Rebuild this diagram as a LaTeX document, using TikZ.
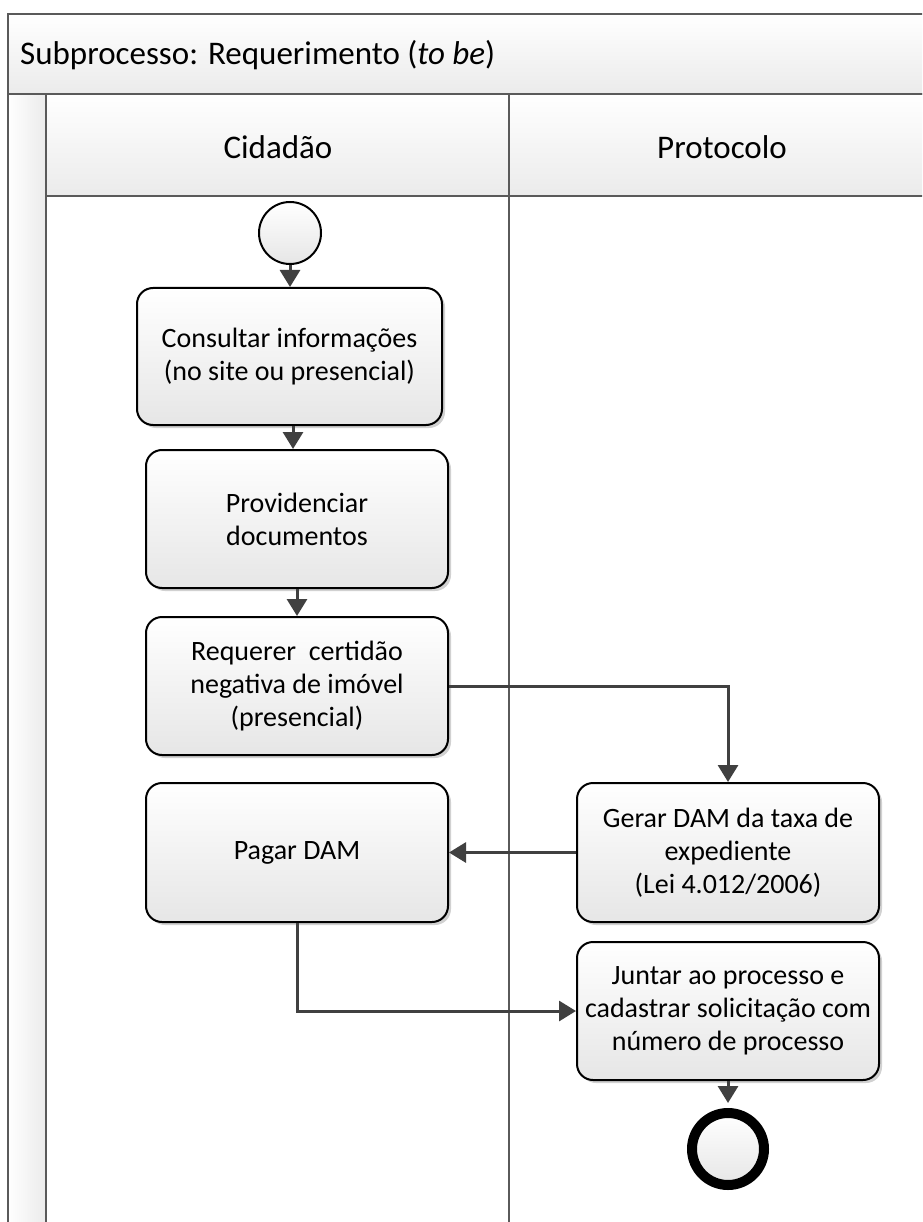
\documentclass[tikz,border=0pt]{standalone}
\usepackage{fontspec}
\setmainfont{Carlito}
\usetikzlibrary{arrows.meta,shadows}

\definecolor{lanegray}{HTML}{5A5A5A}
\definecolor{flowgray}{HTML}{404040}
\definecolor{fillbot}{HTML}{E6E6E6}
\definecolor{bandbot}{HTML}{EBEBEB}

\begin{document}
\begin{tikzpicture}[x=1pt,y=-1pt,
  lane/.style={draw=lanegray,line width=2.5pt},
  task/.style={draw=black,line width=2pt,rounded corners=16pt,
    top color=white,bottom color=fillbot,align=center,inner sep=0pt,
    font=\fontsize{28}{33}\selectfont,
    drop shadow={shadow xshift=3pt,shadow yshift=-3pt,opacity=0.18,fill=black}},
  event/.style={circle,draw=black,top color=white,bottom color=fillbot,inner sep=0pt},
  flow/.style={draw=flowgray,line width=3pt,-{Triangle[length=17pt,width=20pt]}},
  hdr/.style={font=\fontsize{33}{39}\selectfont,inner sep=0pt},
]
\useasboundingbox (0,0) rectangle (922,1222);
\clip (0,0) rectangle (922,1222);
\fill[white] (0,0) rectangle (922,1222);

% pool title band
\path[lane,top color=white,bottom color=bandbot] (8,14) rectangle (945,94);
\node[hdr,anchor=west] (title) at (20,55) {Subprocesso: Requerimento (\textit{to be})};

% lane headers
\path[lane,top color=white,bottom color=bandbot] (46,94) rectangle (945,196);
\path[lane,left color=white,right color=bandbot] (8,94) rectangle (46,1240);
\draw[lane] (46,94) -- (46,1240);
\draw[lane] (509,94) -- (509,1240);
\node[hdr] (laneA) at (278,147) {Cidadão};
\node[hdr] (laneB) at (722,147) {Protocolo};

% flow objects
\node[event,line width=2pt,minimum size=62pt] (start) at (290,233) {};
\node[task,minimum width=305pt,minimum height=137pt] (c1) at (289.5,356.5)
  {Consultar informações\\(no site ou presencial)};
\node[task,minimum width=302pt,minimum height=138pt] (c2) at (297,519)
  {Providenciar\\documentos};
\node[task,minimum width=302pt,minimum height=138pt] (c3) at (297,686)
  {Requerer~ certidão\\negativa de imóvel\\(presencial)};
\node[task,minimum width=302pt,minimum height=139pt] (pagar) at (297,852.5)
  {Pagar DAM};
\node[task,minimum width=302pt,minimum height=139pt] (gerar) at (728,852.5)
  {Gerar DAM da taxa de\\expediente\\(Lei 4.012/2006)};
\node[task,minimum width=302pt,minimum height=138pt] (juntar) at (728,1011)
  {Juntar ao processo e\\cadastrar solicitação com\\número de processo};
\node[event,line width=10pt,minimum size=72pt] (end) at (728,1149) {};

% sequence flows
\draw[flow] (start.south) -- (start.south |- c1.north);
\draw[flow] ([xshift=3.5pt]c1.south) -- ([xshift=-4pt]c2.north);
\draw[flow] (c2.south) -- (c3.north);
\draw[flow] (c3.east) -| (gerar.north);
\draw[flow] (gerar.west) -- (pagar.east);
\draw[flow] (pagar.south) |- (juntar.west);
\draw[flow,shorten >=5pt] (juntar.south) -- (end.north);
\end{tikzpicture}
\end{document}
